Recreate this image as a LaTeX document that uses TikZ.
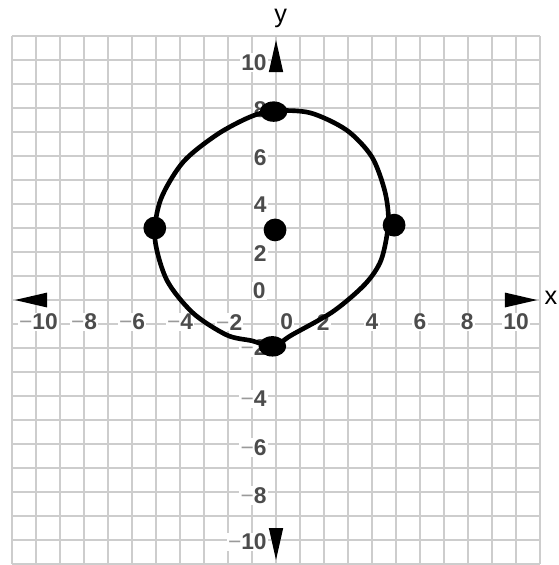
\documentclass[tikz,border=0pt]{standalone}
\usepackage{fontspec}
\setmainfont{Liberation Sans}
\usetikzlibrary{shapes.geometric}
\definecolor{gridgray}{HTML}{CDCDCD}
\definecolor{numgray}{HTML}{4C4C4C}
\definecolor{minusgray}{HTML}{9A9A9A}
\newcommand{\mn}{{\color{minusgray}\mdseries −}}
\begin{document}
\begin{tikzpicture}[x=1cm,y=1cm,
  gridline/.style={draw=gridgray, line width=3.4pt},
  ticklabel/.style={font=\fontsize{27}{30}\selectfont\bfseries, text=numgray, fill=white, inner sep=1.5pt},
  ylabelstyle/.style={ticklabel, anchor=east},
  curvestyle/.style={line width=5.5pt, line join=round},
  dotnode/.style={circle, fill=black, inner sep=0pt, minimum size=0.95cm},
  flatdot/.style={ellipse, fill=black, inner sep=0pt, minimum width=1.15cm, minimum height=0.85cm},
  axisname/.style={font=\fontsize{30}{32}\selectfont, text=black, inner sep=0pt}]
\useasboundingbox (-11.5,-11.04) rectangle (11.75,12.5);
% grid
\draw[gridline] (-11,-11) grid (11,11);
% x tick labels
\node[ticklabel] (xm10) at (-9.9,-0.92) {\mn10};
\node[ticklabel] (xm8) at (-8,-0.92) {\mn8};
\node[ticklabel] (xm6) at (-6,-0.92) {\mn6};
\node[ticklabel] (xm4) at (-4,-0.92) {\mn4};
\node[ticklabel] (xm2) at (-1.95,-0.92) {\mn2};
\node[ticklabel] (x0) at (0.45,-0.92) {0};
\node[ticklabel] (x2) at (1.97,-0.92) {2};
\node[ticklabel] (x4) at (4,-0.92) {4};
\node[ticklabel] (x6) at (6,-0.92) {6};
\node[ticklabel] (x8) at (7.97,-0.92) {8};
\node[ticklabel] (x10) at (10,-0.92) {10};
% y tick labels
\node[ylabelstyle] (y10) at (-0.33,9.9) {10};
\node[ylabelstyle] (y8) at (-0.33,7.95) {8};
\node[ylabelstyle] (y6) at (-0.33,5.95) {6};
\node[ylabelstyle] (y4) at (-0.33,3.97) {4};
\node[ylabelstyle] (y2) at (-0.33,1.93) {2};
\node[ticklabel] (y0) at (-0.7,0.37) {0};
\node[ylabelstyle] (ym2) at (-0.33,-2) {\mn2};
\node[ylabelstyle] (ym4) at (-0.33,-4.12) {\mn4};
\node[ylabelstyle] (ym6) at (-0.33,-6.15) {\mn6};
\node[ylabelstyle] (ym8) at (-0.33,-8.15) {\mn8};
\node[ylabelstyle] (ym10) at (-0.33,-10.08) {\mn10};
% axis arrowheads
\fill (10.88,0) -- (9.54,0.31) -- (9.54,-0.31) -- cycle;
\fill (-10.88,0) -- (-9.54,0.31) -- (-9.54,-0.31) -- cycle;
\fill (0,10.83) -- (0.3,9.5) -- (-0.3,9.5) -- cycle;
\fill (0,-10.83) -- (0.3,-9.5) -- (-0.3,-9.5) -- cycle;
% axis names
\node[axisname] (ylab) at (0.2,11.72) {y};
\node[axisname] (xlab) at (11.45,0.08) {x};
% curve
\draw[curvestyle] plot[smooth cycle, tension=0.5] coordinates {
 (-0.1,7.88) (1.42,7.8) (2.94,7.08) (3.99,5.97) (4.54,4.51) (4.68,3.2)
 (4.38,1.67) (3.7,0.65) (2.36,-0.49) (0.65,-1.46) (-0.12,-1.93)
 (-1.0,-1.7) (-2.05,-1.46) (-3.45,-0.55) (-4.55,0.83) (-5.05,2.6)
 (-4.8,4.2) (-3.86,5.76) (-2.45,6.9) (-1.1,7.62)};
% points
\node[flatdot] (ptop) at (-0.1,7.85) {};
\node[dotnode] (pleft) at (-5.05,3) {};
\node[dotnode] (pright) at (4.92,3.12) {};
\node[flatdot] (pbottom) at (-0.15,-1.93) {};
\node[dotnode] (pcenter) at (-0.04,2.92) {};
\end{tikzpicture}
\end{document}
